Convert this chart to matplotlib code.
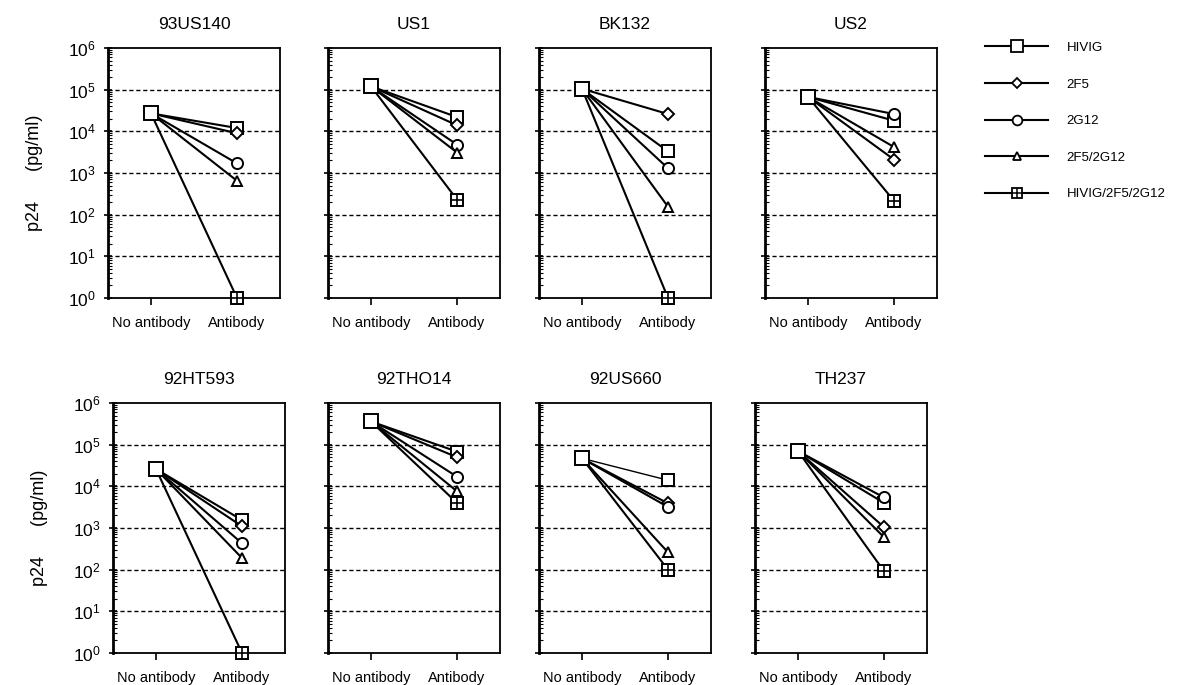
#p24 levels with and without antibody for 8 virus isolates
import numpy as np
import matplotlib.pyplot as plt
from matplotlib.lines import Line2D

plt.rcParams['font.family'] = ['Liberation Sans', 'DejaVu Sans']
plt.rcParams['mathtext.fontset'] = 'custom'
plt.rcParams['mathtext.rm'] = 'Liberation Sans'
plt.rcParams['mathtext.it'] = 'Liberation Sans'

#Isolates (panel titles)
isolates = ['93US140', 'US1', 'BK132', 'US2', '92HT593', '92THO14', '92US660', 'TH237']

#No antibody values (pg/ml)
no_ab = [2.7e4, 1.2e5, 1.05e5, 6.7e4, 2.6e4, 3.6e5, 4.7e4, 7.0e4]

#Antibody values (pg/ml), one list per treatment
hivig  = [1.2e4, 2.2e4, 3.3e3, 1.8e4, 1.55e3, 6.8e4, 1.4e4, 4.0e3]
f2f5   = [9.0e3, 1.4e4, 2.6e4, 2.1e3, 1.1e3, 5.0e4, 3.9e3, 1.05e3]
g2g12  = [1.7e3, 4.8e3, 1.3e3, 2.6e4, 4.3e2, 1.7e4, 3.2e3, 5.4e3]
combo2 = [6.5e2, 3.1e3, 1.55e2, 4.2e3, 1.9e2, 7.6e3, 2.6e2, 6.0e2]
combo3 = [1.0, 2.3e2, 1.0, 2.15e2, 1.0, 4.0e3, 1.0e2, 9.2e1]

labels = ['HIVIG', '2F5', '2G12', '2F5/2G12', 'HIVIG/2F5/2G12']
series = [hivig, f2f5, g2g12, combo2, combo3]
markers = ['s', 'D', 'o', '^', 's']
msizes = [9, 6, 8, 7, 8]

#Panel positions in pixels (left, top) and size
W, H = 1191, 685
lefts = [108, 328, 539, 765, 113, 328, 539, 755]
tops = [48, 48, 48, 48, 403, 403, 403, 403]
pw, ph = 172, 250

fig = plt.figure(figsize=(W/100, H/100), dpi=100)

for i in range(8):
    ax = fig.add_axes([lefts[i]/W, 1 - (tops[i]+ph)/H, pw/W, ph/H])
    ax.set_yscale('log')
    ax.set_ylim(1, 1e6)
    ax.set_xlim(-0.5, 1.5)
    #dashed grid lines
    for k in range(1, 6):
        ax.axhline(10**k, color='black', ls=(0, (3, 2)), lw=1, zorder=1)
    for j in range(5):
        lwj = 1.0 if (i == 6 and j == 0) else 1.5
        ax.plot([0, 1], [no_ab[i], series[j][i]], color='black', lw=lwj,
                marker=markers[j], ms=msizes[j], mfc='white', mec='black',
                mew=1.4, zorder=3+j, clip_on=False)
        if j == 4:
            ax.plot([1], [series[j][i]], marker='+', ms=8, color='black',
                    mew=1.2, zorder=10, clip_on=False)
    #start point drawn on top
    ax.plot([0], [no_ab[i]], marker='s', ms=10, mfc='white', mec='black',
            mew=1.4, zorder=12, clip_on=False)
    ax.set_title(isolates[i], fontsize=12.5, pad=14)
    ax.set_xticks([0, 1])
    ax.set_xticklabels(['No antibody', 'Antibody'], fontsize=10.5)
    ax.tick_params(axis='x', direction='out', length=5, width=1.2, pad=8)
    ax.set_yticks([10**k for k in range(7)])
    ax.tick_params(axis='y', which='major', direction='inout', length=6, width=1.2, pad=6)
    ax.tick_params(axis='y', which='minor', direction='in', length=3, width=0.8)
    if i % 4 == 0:
        ax.set_yticklabels(['$10^{%d}$' % k for k in range(7)], fontsize=12.5)
        ax.set_ylabel('p24      (pg/ml)', fontsize=13, labelpad=18)
    else:
        ax.set_yticklabels([])
    for s in ax.spines.values():
        s.set_linewidth(1.3)
    ax.spines['left'].set_linewidth(2)

#Legend
handles = []
for j in range(5):
    h = Line2D([0], [0], color='black', lw=1.5, marker=markers[j],
               ms=msizes[j]-1, mfc='white', mec='black', mew=1.3)
    if j == 4:
        cross = Line2D([0], [0], ls='none', marker='+', ms=7, color='black', mew=1.1)
        h = (h, cross)
    handles.append(h)
fig.legend(handles, labels, loc='upper left', bbox_to_anchor=(973/W, 1 - 30/H),
           frameon=False, fontsize=9.5, handlelength=4.8, handletextpad=1.4,
           labelspacing=1.84)

plt.savefig('out.png', dpi=100)
